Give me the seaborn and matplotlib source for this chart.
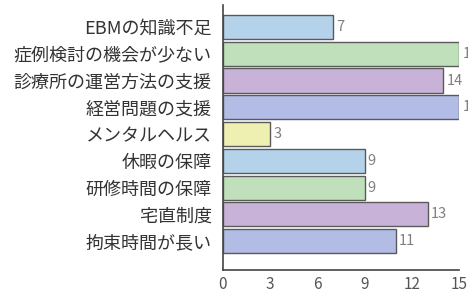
import matplotlib
matplotlib.use("Agg")
import matplotlib.pyplot as plt
import seaborn as sns
import pandas as pd

# dados
categorias = ["EBMの知識不足", "症例検討の機会が少ない", "診療所の運営方法の支援",
              "経営問題の支援", "メンタルヘルス", "休暇の保障", "研修時間の保障",
              "宅直制度", "拘束時間が長い"]
valores = [7, 15, 14, 15, 3, 9, 9, 13, 11]
cores = ["#b4d3ea", "#bfe0bb", "#c8b2d8", "#b2bce5", "#edf0b0",
         "#b4d3ea", "#bfe0bb", "#c8b2d8", "#b2bce5"]
xticks = [0, 3, 6, 9, 12, 15]

sns.set_style("white")
plt.rcParams["font.family"] = ["Noto Sans CJK JP", "DejaVu Sans"]

df = pd.DataFrame({"cat": categorias, "val": valores})

fig = plt.figure(figsize=(4.68, 2.93), dpi=100)
ax = fig.add_axes([0.476, 0.078, 0.505, 0.905])

sns.barplot(data=df, x="val", y="cat", hue="cat", palette=cores, legend=False,
            orient="h", width=0.9, saturation=1, edgecolor="#5a5a5a",
            linewidth=1.0, ax=ax)

# rótulos de valor ao lado das barras
for i, v in enumerate(valores):
    ax.text(v + 0.2, i, str(v), va="center", ha="left", fontsize=10.5,
            color="#808080", clip_on=False)

ax.set_xlim(0, 15)
ax.set_ylim(9.08, -0.82)
ax.set_xticks(xticks)
ax.set_xlabel("")
ax.set_ylabel("")
ax.tick_params(axis="x", direction="in", length=3, labelsize=11,
               labelcolor="#555555", color="#444444", pad=4)
ax.tick_params(axis="y", length=0, labelsize=13, labelcolor="#333333", pad=8)

sns.despine(ax=ax)
for s in ["left", "bottom"]:
    ax.spines[s].set_color("#444444")
    ax.spines[s].set_linewidth(1.2)

fig.savefig("out.png", dpi=100)
